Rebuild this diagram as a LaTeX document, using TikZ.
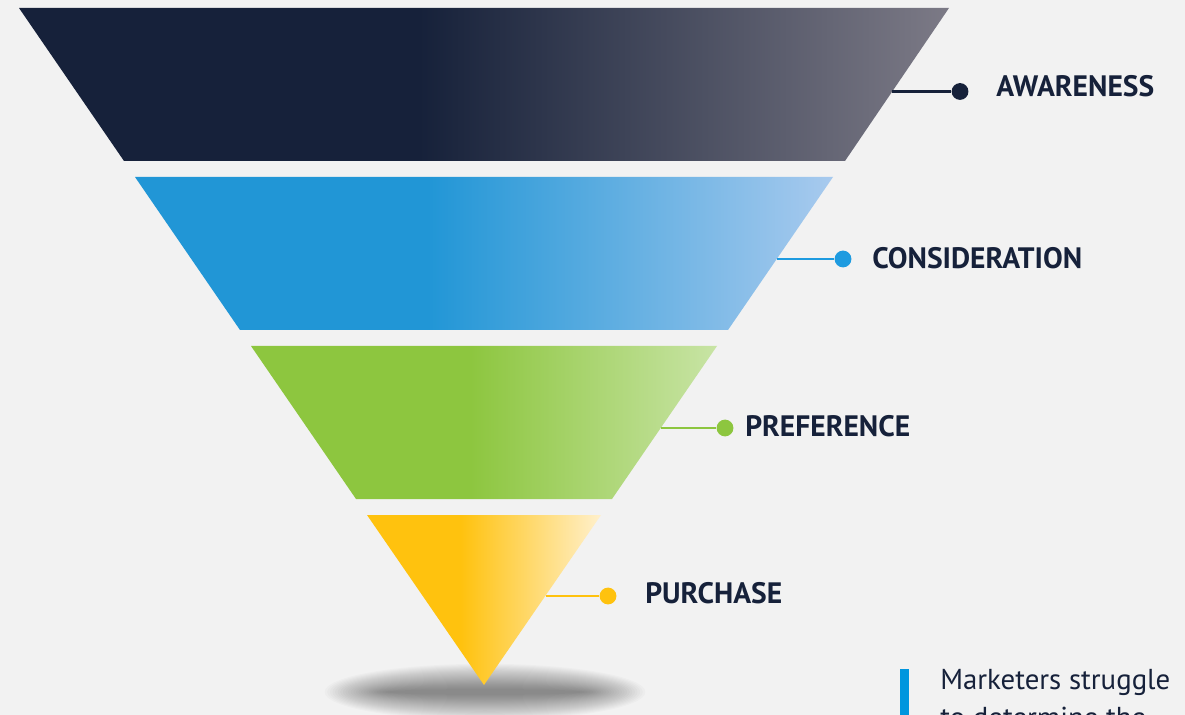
\documentclass[tikz,border=0pt]{standalone}
\usepackage{fontspec}
\newfontfamily\labelfont{PT Sans}
\usepackage{tikz}

\definecolor{bgcol}{RGB}{242,242,242}
\definecolor{navy}{RGB}{22,33,58}
\definecolor{navylight}{RGB}{124,122,134}
\definecolor{bluestage}{RGB}{33,150,214}
\definecolor{bluelight}{RGB}{168,202,238}
\definecolor{bluedot}{RGB}{30,155,224}
\definecolor{greenstage}{RGB}{141,198,63}
\definecolor{greenlight}{RGB}{200,228,165}
\definecolor{yellowstage}{RGB}{255,194,14}
\definecolor{yellowlight}{RGB}{255,240,204}
\definecolor{barblue}{RGB}{0,150,222}

\pgfdeclarehorizontalshading{awarenessshade}{100bp}{color(0bp)=(navy); color(46.5bp)=(navy); color(75bp)=(navylight); color(100bp)=(navylight)}
\pgfdeclarehorizontalshading{considershade}{100bp}{color(0bp)=(bluestage); color(46bp)=(bluestage); color(75bp)=(bluelight); color(100bp)=(bluelight)}
\pgfdeclarehorizontalshading{prefershade}{100bp}{color(0bp)=(greenstage); color(48.5bp)=(greenstage); color(75bp)=(greenlight); color(100bp)=(greenlight)}
\pgfdeclarehorizontalshading{purchaseshade}{100bp}{color(0bp)=(yellowstage); color(45bp)=(yellowstage); color(75bp)=(yellowlight); color(100bp)=(yellowlight)}

\begin{document}
\begin{tikzpicture}[x=0.025cm,y=-0.025cm,
    stagedot/.style={circle,fill=#1,inner sep=0,minimum size=0.42cm},
    stagelabel/.style={anchor=west,inner sep=0,text=navy,font=\labelfont\bfseries\fontsize{21}{25}\selectfont},
    stageline/.style={line width=1.8pt,draw=#1}]
		\useasboundingbox (0,0) rectangle (1185,715);
		\fill[bgcol] (0,0) rectangle (1185,715);
		\clip (0,0) rectangle (1185,715);
		% shadow under the funnel
		\foreach \i in {0,...,24}
			\fill[black,opacity=0.021] (485,692) ellipse [x radius=98+2.6*\i, y radius=3+1.05*\i];
		% funnel stages
		\shade[shading=awarenessshade] (19,8) -- (949,8) -- (845,161) -- (124,161) -- cycle;
		\shade[shading=considershade] (135,177) -- (833,177) -- (728,330) -- (240,330) -- cycle;
		\shade[shading=prefershade] (251,346) -- (717,346) -- (612,499) -- (356,499) -- cycle;
		\shade[shading=purchaseshade] (367,515) -- (601,515) -- (484,685) -- cycle;
		% connectors and labels
		\coordinate (awareedge) at (891.5,91.5);
		\node[stagedot=navy] (awaredot) at (960,91.5) {};
		\draw[stageline=navy] (awareedge) -- (awaredot);
		\node[stagelabel] (aware) at (996,86.5) {AWARENESS};
		\coordinate (consideredge) at (776.5,259);
		\node[stagedot=bluedot] (considerdot) at (843,259) {};
		\draw[stageline=bluedot] (consideredge) -- (considerdot);
		\node[stagelabel] (consider) at (872,258) {CONSIDERATION};
		\coordinate (preferedge) at (660.5,428);
		\node[stagedot=greenstage] (preferdot) at (725,428) {};
		\draw[stageline=greenstage] (preferedge) -- (preferdot);
		\node[stagelabel] (prefer) at (745,426.5) {PREFERENCE};
		\coordinate (purchaseedge) at (545.5,596);
		\node[stagedot=yellowstage] (purchasedot) at (608,596) {};
		\draw[stageline=yellowstage] (purchaseedge) -- (purchasedot);
		\node[stagelabel] (purchase) at (645,593.5) {PURCHASE};
		% note in the corner
		\fill[barblue] (900,669) rectangle (909,715);
		\node[anchor=base west,inner sep=0,text=navy,font=\labelfont\fontsize{20.5}{27}\selectfont] (note1) at (940,689) {Marketers struggle};
		\node[anchor=base west,inner sep=0,text=navy,font=\labelfont\fontsize{20.5}{27}\selectfont] (note2) at (940,727) {to determine the};
\end{tikzpicture}
\end{document}
